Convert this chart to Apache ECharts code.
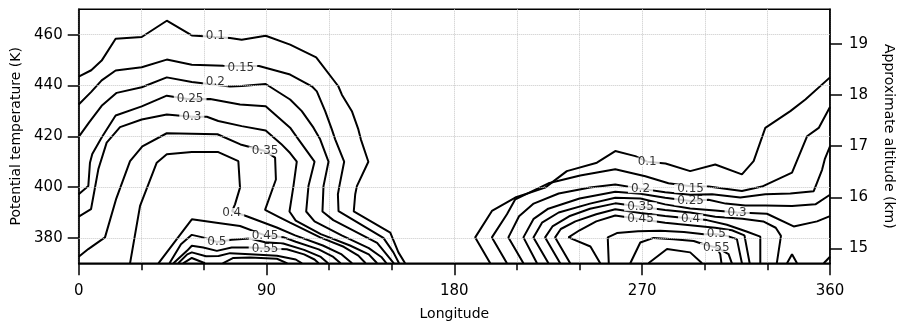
<!DOCTYPE html>
<html>
<head>
<meta charset="utf-8">
<script src="https://cdn.jsdelivr.net/npm/echarts@6/dist/echarts.min.js"></script>
<style>
  html, body { margin: 0; padding: 0; background: #fff; }
  #chart { width: 897px; height: 322px; }
</style>
</head>
<body>
<div id="chart"></div>
<script>
// contour lines as [longitude, potential temperature (K)]
const left010 = [[0,443.5],[6,446],[11,449.8],[17.7,458.4],[30.2,459.1],[42.2,465.5],[54.2,459.7],[60,459.4],[72.5,458.7],[78.1,458],[89.6,459.6],[101.3,456.1],[113.8,451.1],[124.4,439.7],[126.1,436.4],[130.9,429.9],[134,422.7],[135.2,418.8],[138.8,410],[133.3,400.4],[132.5,397.2],[131.8,390.4],[149.3,382.1],[153.2,374.3],[156.4,370]];
const left015 = [[0,432.5],[6,437.5],[11,442],[17.7,445.9],[30.2,447.2],[42.2,450.2],[54.2,448.2],[69.3,447.8],[86.4,447.7],[101.3,444.3],[111.7,439.7],[114.1,437.7],[118.1,429.9],[121.3,422.7],[122.9,418.8],[127.2,410],[124.9,400.4],[124.2,397.2],[124.5,390.5],[146,380],[150.8,374.3],[153.5,370]];
const left020 = [[0,419.8],[5,425.5],[11,432],[18.2,437.1],[30.2,439.3],[42.2,443.2],[54.2,441.4],[72.5,439.6],[78.1,439.8],[89.6,440.6],[101.3,434.5],[106.9,429.9],[112.5,423.4],[115.7,418.8],[119.7,410],[117.3,400.4],[116.8,390.4],[122,387],[143,378],[148,373],[151,370]];
const left025 = [[0,397.2],[4.6,400.4],[5.4,409.6],[6.5,413],[11,419.5],[17.7,428.2],[30.2,431.8],[42.2,436],[53,434.6],[63,434.7],[77.3,432.5],[89.6,431.8],[101.3,423.4],[105.3,418.8],[113,410],[110.1,400.4],[109,390.4],[113,386.5],[126,381],[139,376],[145,372.5],[147.5,370]];
const left030 = [[0,388.4],[5.9,391.3],[9.4,407],[13.4,417.5],[19.8,423.6],[30.2,426.6],[42.2,428.6],[54.2,427.7],[61.4,427.7],[66.9,426],[78.1,424],[89.6,422.3],[97,417],[101.3,413.4],[104.5,410],[102.9,400.4],[101,390.4],[104,386.8],[116,381.5],[130,377],[139,373.5],[143,370]];
const left035 = [[0,372.6],[4.6,375.6],[12.6,380.2],[18,395.5],[24.6,410.2],[30.5,416],[42.2,421.2],[54.2,421],[66.5,420.8],[77.5,416.8],[89.3,414.2],[94.1,411.6],[94.5,403],[89.3,391],[96.5,388],[101.3,386],[115.7,380.2],[127,376.5],[134,373],[137.5,370]];
const left040 = [[24.6,370],[29.4,392.6],[37.4,409.6],[42.2,412.9],[54.2,413.8],[66.9,413.8],[76.5,410.2],[77.3,399.8],[74.9,393.2],[73.5,390.5],[80.5,388.5],[94.9,384.1],[103.7,381],[117,377],[126,373.5],[131,370]];
const left045 = [[38.2,370],[47,379.5],[54.2,387.3],[66,386],[77.3,384.7],[89.3,381],[98,380.3],[104,378.5],[115,375.5],[122,372.5],[125.5,370]];
const left050 = [[43.5,370],[49,377.5],[54.2,381.2],[60.5,380],[66.2,378.4],[73.3,379.3],[82.1,379.8],[89.3,378.3],[98,377.8],[108,375.3],[116,372.5],[119.5,370]];
const left055 = [[45.4,370],[52,375],[54.2,376.9],[59.7,376.2],[66.2,374.9],[73.3,376.2],[82.1,376.2],[89.3,375.8],[99.7,375.5],[108,373.5],[113,371.5],[115,370]];
const left060 = [[47.7,370],[52,373.5],[54.2,374.3],[61,372.8],[67,372.9],[72.5,374],[82.1,373.6],[95,373],[104,371.5],[107,370]];
const left065a = [[50,370],[54.2,372.1],[60.5,370]];
const left065b = [[69,370],[74.1,372.1],[82.1,372.3],[95,371.8],[100,370]];

const right010 = [[197.2,370],[190,380.2],[198,390.6],[209.2,395.9],[223.5,399.8],[233.9,406.3],[248.3,409.6],[257.1,414.2],[266.7,412.2],[272.4,410],[281.2,409.3],[293,406.3],[305,408.9],[317.8,405],[323.4,410.2],[329,423.3],[341,429.9],[348.2,434.5],[360,443.2]];
const right015 = [[205.2,370],[198,380.2],[205.2,389.3],[209.2,395.2],[225.1,401.5],[240.3,404.6],[257.1,407],[271.5,404.3],[282.6,401.5],[293.2,400.3],[301.8,400.2],[317.8,398.5],[327.4,400.2],[341.8,405.7],[349,420],[354.6,423.3],[360,431.5]];
const right020 = [[213.1,370],[205.9,380.2],[211,388.5],[218,393.5],[230,397.5],[245,399.8],[257.1,401],[269.2,399.4],[281,398],[293,397],[303.5,397.2],[317,395.9],[329,397.2],[341,397.5],[352.2,398.4],[356.2,406.8],[357.5,411],[360,416]];
const right025 = [[219.6,370],[213.1,380.2],[218,387.5],[225,391.5],[240,395.5],[257.1,398.2],[269.2,397.4],[281,395.8],[293.2,394.5],[301.8,395],[310,393.5],[319.4,392.8],[329,392.8],[341.8,392.6],[353,393.2],[360,397]];
const right030 = [[225.1,370],[217.9,380.2],[222,386],[230,390],[245,393.5],[257.1,395.8],[269.2,395.5],[281,393.2],[293,391.6],[305,390.8],[315.5,390],[321.8,389.8],[329.8,389.5],[342.6,384.5],[353.8,386.5],[360,388.6]];
const right035 = [[230.7,370],[223.5,380.2],[227,384.5],[235,388.5],[245,391.5],[257.1,393.6],[269.2,392.3],[281,391],[293,390],[305,388.3],[318,387.5],[328,386.5],[334,384],[336.5,380.8],[334.5,370]];
const right040 = [[235.5,370],[228.3,380.2],[231,383.5],[238,386.5],[248,389.3],[257.1,391.3],[269.2,389.8],[281,388.6],[293,387.6],[301,387],[310.6,385.2],[320,382.5],[326.6,380.5],[326.6,370]];
const right045 = [[249.9,370],[245.2,376.6],[234.7,380.2],[240,383],[248,386.5],[257.1,388.8],[269.2,387.3],[281,386],[293,385],[305,384],[313,383],[319,381],[321.5,370]];
const right050 = [[254,370],[253.5,380.2],[257.9,381.9],[268,382.6],[278.7,382.8],[290,382.3],[299.6,381.4],[305.5,381.4],[310.6,380.8],[315.4,379.5],[317.8,370]];
const right055 = [[264.3,370],[269.1,378.2],[275.5,380],[285,379.5],[294.7,378.8],[299.4,377.5],[305.5,376.2],[309.5,374.5],[311.4,373.6],[313,370]];
const right060 = [[273,370],[281.9,375.6],[293,374.3],[298.7,370]];
const right060b = [[306.5,375],[307.4,373.6],[308,370]];
const rightBump = [[339.4,370],[341.8,373.6],[344.2,370]];
const rightCorner = [[357,370],[360,372.6]];

const contourLines = [
  left010, left015, left020, left025, left030, left035, left040, left045, left050, left055, left060, left065a, left065b,
  right010, right015, right020, right025, right030, right035, right040, right045, right050, right055, right060, right060b, rightBump, rightCorner,
];

// in-line contour labels
const labelText = ["0.1", "0.15", "0.2", "0.25", "0.3", "0.35", "0.4", "0.45", "0.5", "0.55",
  "0.1", "0.2", "0.15", "0.35", "0.25", "0.45", "0.4", "0.3", "0.5", "0.55"];
const labelLon = [65.5, 77.7, 65.5, 53.4, 54.2, 89.3, 73.3, 89.3, 66.2, 89.3,
  272.4, 269.2, 293.2, 269.2, 293.2, 269.2, 293.2, 315.5, 305.5, 305.5];
const labelTheta = [459.4, 446.9, 441.4, 434.6, 427.7, 414.2, 390, 380.9, 378.4, 375.8,
  409.9, 399.4, 399.4, 392.3, 394.5, 387.3, 387.6, 390, 381.4, 376.2];

const thetaTicks = [380, 400, 420, 440, 460];
const kmTicks = [15, 16, 17, 18, 19];

// altitude axis is linear in theta on this figure
const KM15_THETA = 375.83;
const THETA_PER_KM = 20.13;
const kmToTheta = (km) => KM15_THETA + (km - 15) * THETA_PER_KM;

const FONT = "'DejaVu Sans', Verdana, sans-serif";
const AXIS_LINE = { color: "#000", width: 1.5 };
const GRID_LINE = { color: "#c8c8c8", type: "dotted", width: 1 };

const chart = echarts.init(document.getElementById("chart"), null, { renderer: "canvas" });

chart.setOption({
  animation: false,
  backgroundColor: "#fff",
  grid: {
    left: 78.7, right: 67, top: 9.3, bottom: 58.7,
    outerBoundsMode: "none",
    show: true, borderColor: "#000", borderWidth: 1.5,
  },
  xAxis: {
    type: "value",
    min: 0,
    max: 360,
    interval: 90,
    name: "Longitude",
    nameLocation: "middle",
    nameGap: 44,
    nameTextStyle: { fontSize: 14, fontFamily: FONT, color: "#000" },
    axisLine: { lineStyle: AXIS_LINE },
    axisTick: { length: 12, lineStyle: AXIS_LINE },
    minorTick: { show: true, splitNumber: 3, length: 7, lineStyle: AXIS_LINE },
    axisLabel: { fontSize: 15, fontFamily: FONT, color: "#000", margin: 20 },
    splitLine: { show: true, lineStyle: GRID_LINE },
    minorSplitLine: { show: true, lineStyle: GRID_LINE },
  },
  yAxis: [
    {
      type: "value",
      position: "left",
      min: 370,
      max: 470,
      name: "Potential temperature (K)",
      nameLocation: "middle",
      nameGap: 53,
      nameTextStyle: { fontSize: 14, fontFamily: FONT, color: "#000" },
      axisLine: { show: true, lineStyle: AXIS_LINE },
      axisTick: { show: true, length: 11, customValues: thetaTicks, lineStyle: AXIS_LINE },
      axisLabel: { customValues: thetaTicks, fontSize: 15, fontFamily: FONT, color: "#000", margin: 16 },
      splitLine: { show: false },
    },
    {
      type: "value",
      position: "right",
      min: 370,
      max: 470,
      name: "Approximate altitude (km)",
      nameLocation: "middle",
      nameGap: 52,
      nameRotate: -90,
      nameTextStyle: { fontSize: 14, fontFamily: FONT, color: "#000" },
      axisLine: { show: true, lineStyle: AXIS_LINE },
      axisTick: { show: true, length: 12, customValues: kmTicks.map(kmToTheta), lineStyle: AXIS_LINE },
      axisLabel: {
        customValues: kmTicks.map(kmToTheta),
        formatter: (v) => String(Math.round((v - KM15_THETA) / THETA_PER_KM + 15)),
        fontSize: 15,
        fontFamily: FONT,
        color: "#000",
        margin: 19,
      },
      splitLine: { show: false },
    },
  ],
  series: [
    {
      // horizontal dotted grid at the labelled theta ticks
      type: "line",
      data: [],
      silent: true,
      z: 1,
      markLine: {
        silent: true,
        symbol: "none",
        label: { show: false },
        lineStyle: GRID_LINE,
        data: thetaTicks.map((v) => ({ yAxis: v })),
      },
    },
    ...contourLines.map((points) => ({
      type: "line",
      data: points,
      showSymbol: false,
      symbol: "none",
      silent: true,
      z: 3,
      lineStyle: { color: "#000", width: 2 },
    })),
    {
      type: "scatter",
      symbolSize: 1,
      silent: true,
      z: 6,
      itemStyle: { color: "#fff" },
      data: labelText.map((t, i) => ({ name: t, value: [labelLon[i], labelTheta[i]] })),
      label: {
        show: true,
        position: "inside",
        formatter: "{b}",
        fontSize: 12,
        fontFamily: FONT,
        color: "#000",
        backgroundColor: "#fff",
        padding: [0, 3],
        lineHeight: 9,
      },
    },
  ],
});
</script>
</body>
</html>
